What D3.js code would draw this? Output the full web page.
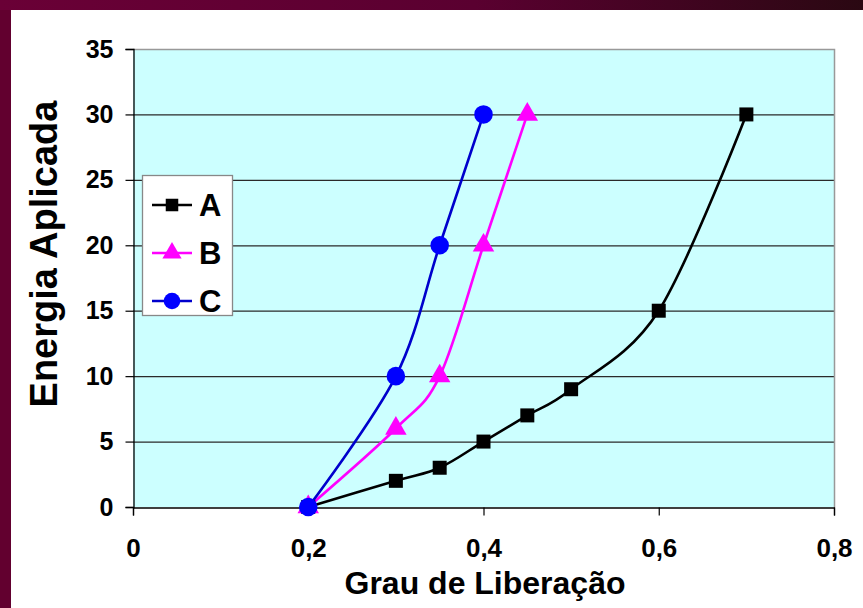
<!DOCTYPE html>
<html>
<head>
<meta charset="utf-8">
<script src="https://cdn.jsdelivr.net/npm/d3@7"></script>
<style>
  html, body { margin: 0; padding: 0; background: #5e0030; }
  svg { display: block; font-family: "Liberation Sans", Arial, sans-serif; }
</style>
</head>
<body>
<svg id="chart" width="863" height="608"></svg>
<script>
// Grau de liberação (x) versus energia aplicada (y), three series
const seriesNames = ["A", "B", "C"];
const seriesA = [[0.2, 0], [0.3, 2], [0.35, 3], [0.4, 5], [0.45, 7], [0.5, 9], [0.6, 15], [0.7, 30]];
const seriesB = [[0.2, 0], [0.3, 6], [0.35, 10], [0.4, 20], [0.45, 30]];
const seriesC = [[0.2, 0], [0.3, 10], [0.35, 20], [0.4, 30]];
const xTicks = [0, 0.2, 0.4, 0.6, 0.8];
const yTicks = [0, 5, 10, 15, 20, 25, 30, 35];
const xTitle = "Grau de Liberação";
const yTitle = "Energia Aplicada";

const W = 863, H = 608;
const plot = { left: 133, right: 834, top: 49, bottom: 507 };

const svg = d3.select("#chart");

// slide-style frame: dark band with a white panel
const defs = svg.append("defs");
const grad = defs.append("linearGradient").attr("id", "band").attr("x1", 0).attr("x2", 1).attr("y1", 0).attr("y2", 0);
grad.append("stop").attr("offset", "0%").attr("stop-color", "#6a0036");
grad.append("stop").attr("offset", "55%").attr("stop-color", "#5a0030");
grad.append("stop").attr("offset", "100%").attr("stop-color", "#2a0812");
svg.append("rect").attr("width", W).attr("height", H).attr("fill", "#62002f");
svg.append("rect").attr("width", W).attr("height", 10).attr("fill", "url(#band)");
svg.append("rect").attr("x", 11).attr("y", 10).attr("width", W - 11).attr("height", H - 10).attr("fill", "#ffffff");

const x = d3.scaleLinear().domain([0, 0.8]).range([plot.left, plot.right]);
const y = d3.scaleLinear().domain([0, 35]).range([plot.bottom, plot.top]);

// plot area
svg.append("rect")
  .attr("x", plot.left).attr("y", plot.top)
  .attr("width", plot.right - plot.left).attr("height", plot.bottom - plot.top)
  .attr("fill", "#ccffff");

// horizontal gridlines
svg.append("g").selectAll("line")
  .data(yTicks.filter(v => v > 0 && v < 35))
  .join("line")
  .attr("x1", plot.left).attr("x2", plot.right)
  .attr("y1", d => y(d) + 0.5).attr("y2", d => y(d) + 0.5)
  .attr("stroke", "#2a2a2a").attr("stroke-width", 1.2);

// plot border (top and right in grey)
svg.append("path")
  .attr("d", `M${plot.left},${plot.top + 0.5}H${plot.right + 0.5}V${plot.bottom}`)
  .attr("fill", "none").attr("stroke", "#999999").attr("stroke-width", 1.5);

// y axis
const yAxis = svg.append("g")
  .attr("transform", `translate(${plot.left + 0.5},0)`)
  .call(d3.axisLeft(y).tickValues(yTicks).tickSize(8).tickPadding(12).tickFormat(d3.format("d")));
yAxis.select(".domain").attr("stroke", "#000").attr("stroke-width", 1.3);
yAxis.selectAll(".tick line").attr("stroke", "#000").attr("stroke-width", 1.2);
yAxis.selectAll(".tick text")
  .attr("fill", "#000").attr("font-size", 25).attr("font-weight", "bold")
  .attr("font-family", "Liberation Sans, Arial, sans-serif");

// x axis
const xAxis = svg.append("g")
  .attr("transform", `translate(0,${plot.bottom + 0.5})`)
  .call(d3.axisBottom(x).tickValues(xTicks).tickSize(8).tickPadding(23)
    .tickFormat(d => d === 0 ? "0" : d3.format(".1f")(d).replace(".", ",")));
xAxis.select(".domain").attr("stroke", "#000").attr("stroke-width", 1.3);
xAxis.selectAll(".tick line").attr("stroke", "#000").attr("stroke-width", 1.2);
xAxis.selectAll(".tick text")
  .attr("fill", "#000").attr("font-size", 26).attr("font-weight", "bold")
  .attr("font-family", "Liberation Sans, Arial, sans-serif");

// axis titles
svg.append("text")
  .attr("x", 485).attr("y", 594)
  .attr("text-anchor", "middle")
  .attr("font-size", 32).attr("font-weight", "bold")
  .text(xTitle);
svg.append("text")
  .attr("transform", "translate(57,254) rotate(-90)")
  .attr("text-anchor", "middle")
  .attr("font-size", 38).attr("font-weight", "bold")
  .text(yTitle);

// series
const series = [
  { name: seriesNames[0], data: seriesA, line: "#000000", fill: "#000000", shape: d3.symbolSquare, size: 196 },
  { name: seriesNames[1], data: seriesB, line: "#ff00ff", fill: "#ff00ff", shape: d3.symbolTriangle, size: 200 },
  { name: seriesNames[2], data: seriesC, line: "#0000cc", fill: "#0000ff", shape: d3.symbolCircle, size: 270 }
];

const line = d3.line()
  .x(d => x(d[0])).y(d => y(d[1]))
  .curve(d3.curveCatmullRom.alpha(0));

const gSeries = svg.append("g");
series.forEach(s => {
  gSeries.append("path")
    .attr("d", line(s.data))
    .attr("fill", "none").attr("stroke", s.line).attr("stroke-width", 2.6);
});
series.forEach(s => {
  gSeries.append("g").selectAll("path")
    .data(s.data)
    .join("path")
    .attr("transform", d => `translate(${x(d[0])},${y(d[1])})`)
    .attr("d", d3.symbol(s.shape, s.size))
    .attr("fill", s.fill);
});

// legend
const legend = svg.append("g").attr("transform", "translate(142,175)");
legend.append("rect")
  .attr("x", 0.5).attr("y", 0.5).attr("width", 90).attr("height", 140)
  .attr("fill", "#ffffff").attr("stroke", "#888888").attr("stroke-width", 1.3);
series.forEach((s, i) => {
  const cy = 30 + i * 48;
  legend.append("line")
    .attr("x1", 10).attr("x2", 50).attr("y1", cy).attr("y2", cy)
    .attr("stroke", s.line).attr("stroke-width", 2.6);
  legend.append("path")
    .attr("transform", `translate(30,${cy})`)
    .attr("d", d3.symbol(s.shape, s.size * 0.8))
    .attr("fill", s.fill);
  legend.append("text")
    .attr("x", 57).attr("y", cy + 11)
    .attr("font-size", 31).attr("font-weight", "bold")
    .text(s.name);
});
</script>
</body>
</html>
